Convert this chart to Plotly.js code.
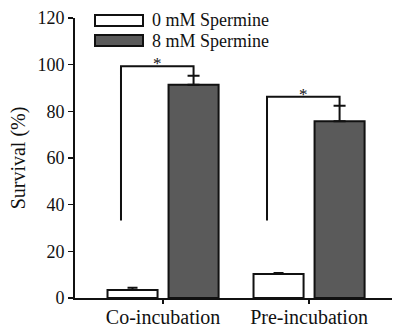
<!DOCTYPE html>
<html>
<head>
<meta charset="utf-8">
<script src="https://cdn.plot.ly/plotly-3.0.1.min.js"></script>
<style>html,body{margin:0;padding:0;background:#fff;}#chart{width:394px;height:329px;}</style>
</head>
<body>
<div id="chart"></div>
<script>
// ---- data ----
const categories = ['Co-incubation', 'Pre-incubation'];
const seriesNames = ['0 mM Spermine', '8 mM Spermine'];
const survival0mM = [3.4, 10.3];
const error0mM = [1.0, 0.4];
const survival8mM = [91.4, 75.7];
const error8mM = [3.9, 6.7];
const yTickVals = [0, 20, 40, 60, 80, 100, 120];
// significance brackets: [bottom of left leg, top of bracket]
const bracketBottom = [33.2, 33.2];
const bracketTop = [99.3, 86.2];
const sigLabel = ['*', '*'];

// ---- style ----
const FONT = '"Liberation Serif", "Times New Roman", serif';
const darkFill = '#5a5a5a';
const bargap = 0.164, bargroupgap = 0.18;
const halfGroup = (1 - bargap) / 4; // bar center offset
const leftLegOffset = -0.288;

const traces = [
  {
    type: 'bar', name: seriesNames[0], x: categories, y: survival0mM,
    marker: {color: '#ffffff', line: {color: '#111', width: 2}},
    error_y: {type: 'data', array: error0mM, symmetric: false, arrayminus: [0, 0], color: '#111', thickness: 2, width: 5},
    showlegend: false
  },
  {
    type: 'bar', name: seriesNames[1], x: categories, y: survival8mM,
    marker: {color: darkFill, line: {color: '#111', width: 2}},
    error_y: {type: 'data', array: error8mM, symmetric: false, arrayminus: [0, 0], color: '#111', thickness: 2, width: 6},
    showlegend: false
  }
];

const shapes = [];
const annotations = [];
categories.forEach((c, i) => {
  const xl = i + leftLegOffset;
  const xr = i + halfGroup;
  const yr = survival8mM[i] + error8mM[i];
  shapes.push({
    type: 'path', xref: 'x', yref: 'y',
    path: `M ${xl} ${bracketBottom[i]} L ${xl} ${bracketTop[i]} L ${xr} ${bracketTop[i]} L ${xr} ${yr}`,
    line: {color: '#111', width: 2}
  });
  annotations.push({
    xref: 'x', yref: 'y', x: (xl + xr) / 2, y: bracketTop[i], text: sigLabel[i],
    showarrow: false, yanchor: 'bottom', yshift: -9, font: {family: FONT, size: 17, color: '#111'}
  });
});

// custom legend with wide boxes
const legendFills = ['#ffffff', darkFill];
const legendRowsY = [20.5, 40.5]; // px from top
legendFills.forEach((f, i) => {
  shapes.push({
    type: 'rect', xref: 'paper', yref: 'paper',
    x0: (95 - 75) / 317, x1: (143 - 75) / 317,
    y0: 1 + (18 - legendRowsY[i] - 5.5) / 280, y1: 1 + (18 - legendRowsY[i] + 5.5) / 280,
    fillcolor: f, line: {color: '#111', width: 2}
  });
  annotations.push({
    xref: 'paper', yref: 'paper', x: (151 - 75) / 317, y: 1 + (18 - legendRowsY[i]) / 280,
    xanchor: 'left', yanchor: 'middle', text: seriesNames[i], showarrow: false,
    borderpad: 0,
    font: {family: FONT, size: 18, color: '#111'}
  });
});

const layout = {
  width: 394, height: 329,
  margin: {l: 75, r: 2, t: 18, b: 31},
  paper_bgcolor: '#fff', plot_bgcolor: '#fff',
  barmode: 'group', bargap: bargap, bargroupgap: bargroupgap,
  font: {family: FONT, size: 18, color: '#111'},
  xaxis: {
    type: 'category', range: [-0.603, 1.568],
    showline: true, linecolor: '#111', linewidth: 2,
    ticks: 'outside', ticklen: 4, tickwidth: 1.5, tickcolor: '#111',
    ticklabelstandoff: -4,
    showgrid: false, zeroline: false,
    tickfont: {family: FONT, size: 20, color: '#111'}
  },
  yaxis: {
    range: [0, 120], tickvals: yTickVals,
    showline: true, linecolor: '#111', linewidth: 2,
    ticks: 'outside', ticklen: 5, tickwidth: 1.5, tickcolor: '#111',
    showgrid: false, zeroline: false,
    tickfont: {family: FONT, size: 18, color: '#111'},
    title: {text: 'Survival (%)', font: {family: FONT, size: 20, color: '#111'}, standoff: 6}
  },
  shapes: shapes,
  annotations: annotations,
  showlegend: false
};

Plotly.newPlot('chart', traces, layout, {displayModeBar: false, staticPlot: true});
</script>
</body>
</html>
